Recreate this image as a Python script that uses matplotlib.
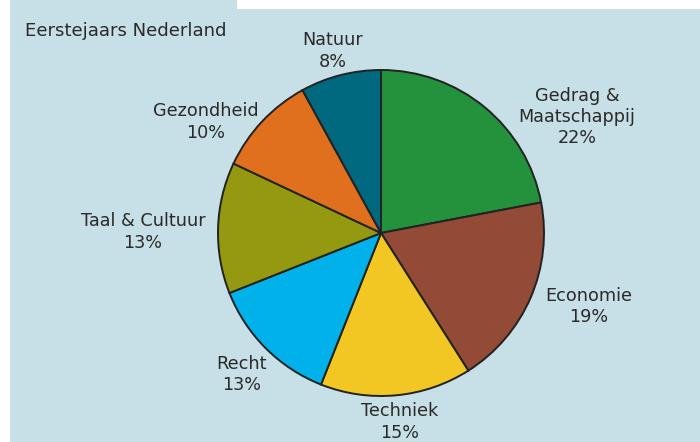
import matplotlib.pyplot as plt
from matplotlib.patches import Rectangle

plt.rcParams['font.family'] = ['DejaVu Sans']

categories = ['Gedrag &\nMaatschappij', 'Economie', 'Techniek', 'Recht',
              'Taal & Cultuur', 'Gezondheid', 'Natuur']
shares = [22, 19, 15, 13, 13, 10, 8]
colors = ['#24913c', '#934a37', '#f2c623', '#00b2e9', '#94990f', '#e0701e', '#00687f']

# label anchor positions in pixel space (x from left, y from top)
label_pos = [(577, 117), (588.5, 306.5), (400, 422), (241.5, 374.5),
             (143, 232), (205.5, 122), (333, 51)]

W, H = 700, 442
fig = plt.figure(figsize=(W / 100, H / 100), dpi=100, facecolor='white')
ax = fig.add_axes([0, 0, 1, 1])

bg = '#c7dfe6'
ax.add_patch(Rectangle((10, 0), W - 10, H, facecolor=bg, edgecolor='none', zorder=0))
ax.add_patch(Rectangle((237, H - 9), W - 237, 9, facecolor='white', edgecolor='none', zorder=0))

ax.pie(shares, colors=colors, startangle=90, counterclock=False,
       center=(381, H - 233), radius=163, frame=True,
       wedgeprops=dict(edgecolor='#222222', linewidth=1.4))
ax.set_xlim(0, W)
ax.set_ylim(0, H)
ax.set_aspect('equal')
ax.axis('off')

for name, val, (px, py) in zip(categories, shares, label_pos):
    ax.text(px, H - py, f'{name}\n{val}%', ha='center', va='center',
            fontsize=12.7, color='#2a2a2a', linespacing=1.22)

ax.text(25, H - 36, 'Eerstejaars Nederland', ha='left', va='baseline',
        fontsize=13.1, color='#2a2a2a')

fig.savefig('out.png', dpi=100, facecolor='white')
